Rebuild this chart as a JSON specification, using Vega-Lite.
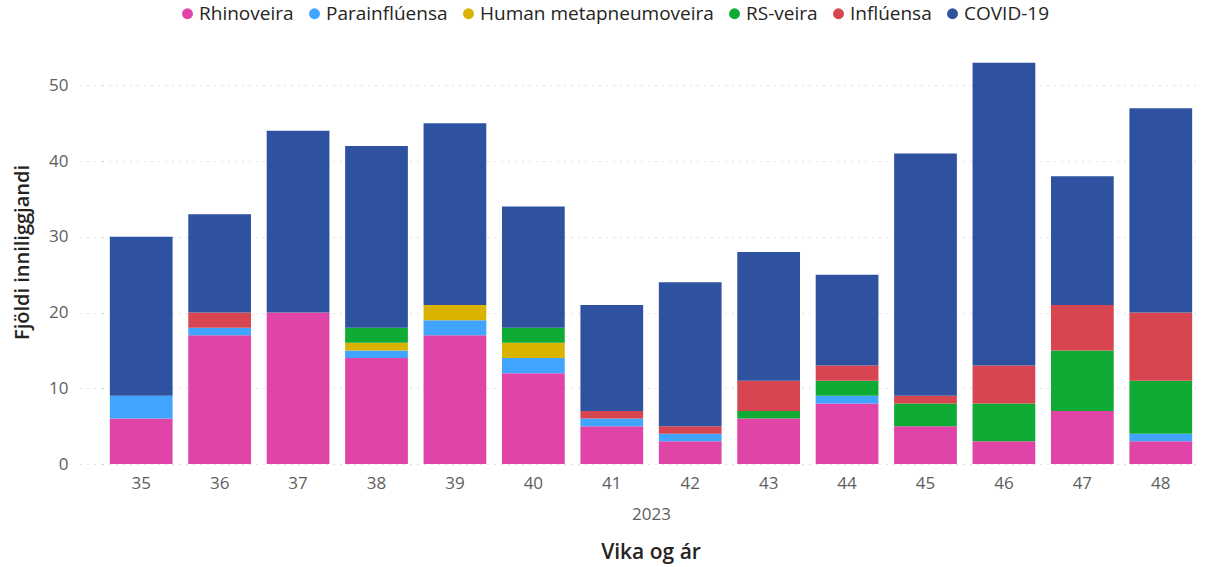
{
  "$schema": "https://vega.github.io/schema/vega-lite/v6.json",
  "autosize": {"type": "none"},
  "width": 1098,
  "height": 424,
  "padding": {"left": 102, "top": 40, "right": 7, "bottom": 103},
  "config": {
    "font": "Open Sans",
    "view": {"stroke": null}
  },
  "title": {
    "text": "Vika og ár",
    "orient": "bottom",
    "fontSize": 21,
    "fontWeight": 600,
    "color": "#252423",
    "offset": 20,
    "anchor": "middle"
  },
  "data": {
    "values": [
      {"vika": "35", "veira": "Rhinoveira", "n": 6, "rod": 1},
      {"vika": "35", "veira": "Parainflúensa", "n": 3, "rod": 2},
      {"vika": "35", "veira": "COVID-19", "n": 21, "rod": 6},
      {"vika": "36", "veira": "Rhinoveira", "n": 17, "rod": 1},
      {"vika": "36", "veira": "Parainflúensa", "n": 1, "rod": 2},
      {"vika": "36", "veira": "Inflúensa", "n": 2, "rod": 5},
      {"vika": "36", "veira": "COVID-19", "n": 13, "rod": 6},
      {"vika": "37", "veira": "Rhinoveira", "n": 20, "rod": 1},
      {"vika": "37", "veira": "COVID-19", "n": 24, "rod": 6},
      {"vika": "38", "veira": "Rhinoveira", "n": 14, "rod": 1},
      {"vika": "38", "veira": "Parainflúensa", "n": 1, "rod": 2},
      {"vika": "38", "veira": "Human metapneumoveira", "n": 1, "rod": 3},
      {"vika": "38", "veira": "RS-veira", "n": 2, "rod": 4},
      {"vika": "38", "veira": "COVID-19", "n": 24, "rod": 6},
      {"vika": "39", "veira": "Rhinoveira", "n": 17, "rod": 1},
      {"vika": "39", "veira": "Parainflúensa", "n": 2, "rod": 2},
      {"vika": "39", "veira": "Human metapneumoveira", "n": 2, "rod": 3},
      {"vika": "39", "veira": "COVID-19", "n": 24, "rod": 6},
      {"vika": "40", "veira": "Rhinoveira", "n": 12, "rod": 1},
      {"vika": "40", "veira": "Parainflúensa", "n": 2, "rod": 2},
      {"vika": "40", "veira": "Human metapneumoveira", "n": 2, "rod": 3},
      {"vika": "40", "veira": "RS-veira", "n": 2, "rod": 4},
      {"vika": "40", "veira": "COVID-19", "n": 16, "rod": 6},
      {"vika": "41", "veira": "Rhinoveira", "n": 5, "rod": 1},
      {"vika": "41", "veira": "Parainflúensa", "n": 1, "rod": 2},
      {"vika": "41", "veira": "Inflúensa", "n": 1, "rod": 5},
      {"vika": "41", "veira": "COVID-19", "n": 14, "rod": 6},
      {"vika": "42", "veira": "Rhinoveira", "n": 3, "rod": 1},
      {"vika": "42", "veira": "Parainflúensa", "n": 1, "rod": 2},
      {"vika": "42", "veira": "Inflúensa", "n": 1, "rod": 5},
      {"vika": "42", "veira": "COVID-19", "n": 19, "rod": 6},
      {"vika": "43", "veira": "Rhinoveira", "n": 6, "rod": 1},
      {"vika": "43", "veira": "RS-veira", "n": 1, "rod": 4},
      {"vika": "43", "veira": "Inflúensa", "n": 4, "rod": 5},
      {"vika": "43", "veira": "COVID-19", "n": 17, "rod": 6},
      {"vika": "44", "veira": "Rhinoveira", "n": 8, "rod": 1},
      {"vika": "44", "veira": "Parainflúensa", "n": 1, "rod": 2},
      {"vika": "44", "veira": "RS-veira", "n": 2, "rod": 4},
      {"vika": "44", "veira": "Inflúensa", "n": 2, "rod": 5},
      {"vika": "44", "veira": "COVID-19", "n": 12, "rod": 6},
      {"vika": "45", "veira": "Rhinoveira", "n": 5, "rod": 1},
      {"vika": "45", "veira": "RS-veira", "n": 3, "rod": 4},
      {"vika": "45", "veira": "Inflúensa", "n": 1, "rod": 5},
      {"vika": "45", "veira": "COVID-19", "n": 32, "rod": 6},
      {"vika": "46", "veira": "Rhinoveira", "n": 3, "rod": 1},
      {"vika": "46", "veira": "RS-veira", "n": 5, "rod": 4},
      {"vika": "46", "veira": "Inflúensa", "n": 5, "rod": 5},
      {"vika": "46", "veira": "COVID-19", "n": 40, "rod": 6},
      {"vika": "47", "veira": "Rhinoveira", "n": 7, "rod": 1},
      {"vika": "47", "veira": "RS-veira", "n": 8, "rod": 4},
      {"vika": "47", "veira": "Inflúensa", "n": 6, "rod": 5},
      {"vika": "47", "veira": "COVID-19", "n": 17, "rod": 6},
      {"vika": "48", "veira": "Rhinoveira", "n": 3, "rod": 1},
      {"vika": "48", "veira": "Parainflúensa", "n": 1, "rod": 2},
      {"vika": "48", "veira": "RS-veira", "n": 7, "rod": 4},
      {"vika": "48", "veira": "Inflúensa", "n": 9, "rod": 5},
      {"vika": "48", "veira": "COVID-19", "n": 27, "rod": 6}
    ]
  },
  "mark": {"type": "bar"},
  "encoding": {
    "x": {
      "field": "vika",
      "type": "ordinal",
      "scale": {"paddingInner": 0.2, "paddingOuter": 0.1},
      "axis": {
        "title": "2023",
        "titleFontSize": 17,
        "titleFontWeight": "normal",
        "titleColor": "#605E5C",
        "titlePadding": 15,
        "labelAngle": 0,
        "labelFontSize": 17,
        "labelColor": "#605E5C",
        "labelPadding": 11,
        "ticks": false,
        "domain": false
      }
    },
    "y": {
      "field": "n",
      "type": "quantitative",
      "stack": "zero",
      "scale": {"domain": [0, 56], "nice": false},
      "axis": {
        "title": "Fjöldi inniliggjandi",
        "titleFontSize": 20,
        "titleFontWeight": 600,
        "titleColor": "#252423",
        "titlePadding": 16,
        "values": [0, 10, 20, 30, 40, 50],
        "labelFontSize": 17,
        "labelColor": "#605E5C",
        "labelPadding": 12,
        "tickSize": 22,
        "tickColor": "#BDBBB9",
        "tickDash": [1, 6],
        "grid": true,
        "gridColor": "#BDBBB9",
        "gridDash": [1, 6],
        "domain": false
      }
    },
    "color": {
      "field": "veira",
      "type": "nominal",
      "scale": {
        "domain": ["Rhinoveira", "Parainflúensa", "Human metapneumoveira", "RS-veira", "Inflúensa", "COVID-19"],
        "range": ["#E044A7", "#41A4FF", "#D9B300", "#10AB35", "#D64550", "#2E52A0"]
      },
      "legend": {
        "title": null,
        "orient": "none",
        "legendX": 76,
        "legendY": -36,
        "direction": "horizontal",
        "symbolType": "circle",
        "symbolSize": 120,
        "symbolOpacity": 1,
        "labelFontSize": 19,
        "labelLimit": 0,
        "labelColor": "#252423",
        "labelOffset": 2,
        "columnPadding": 11
      }
    },
    "order": {"field": "rod", "type": "quantitative"}
  }
}
